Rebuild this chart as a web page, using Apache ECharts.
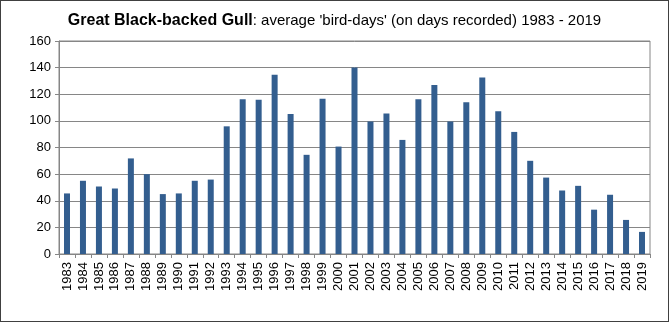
<!DOCTYPE html>
<html><head><meta charset="utf-8">
<script src="https://cdn.jsdelivr.net/npm/echarts@6/dist/echarts.min.js"></script>
<style>
html,body{margin:0;padding:0;background:#fff;}
#c{width:669px;height:322px;box-sizing:border-box;border:1px solid #404040;}
</style></head>
<body><div id="c"></div>
<script>
const years = ['1983','1984','1985','1986','1987','1988','1989','1990','1991','1992','1993','1994','1995','1996','1997','1998','1999','2000','2001','2002','2003','2004','2005','2006','2007','2008','2009','2010','2011','2012','2013','2014','2015','2016','2017','2018','2019'];
const birdDays = [45.5,55,50.7,49.2,71.8,60,45,45.5,55,55.9,95.9,116.3,115.8,134.6,105.1,74.5,116.7,80.7,140.1,99.6,105.6,85.7,116.3,126.9,99.6,114,132.6,107.3,91.7,70,57.4,47.7,51.2,33.3,44.5,25.6,16.6];
const yTicks = [0,20,40,60,80,100,120,140,160];

const chart = echarts.init(document.getElementById('c'), null, {renderer:'canvas'});
chart.setOption({
  animation:false,
  title:{
    text:'{b|Great Black-backed Gull}{n|: average \'bird-days\' (on days recorded) 1983 - 2019}',
    left:'center', top:7,
    textStyle:{
      fontWeight:'normal',
      rich:{
        b:{fontFamily:'Liberation Sans, Arial, sans-serif',fontSize:16,fontWeight:'bold',color:'#000'},
        n:{fontFamily:'Liberation Sans, Arial, sans-serif',fontSize:15,fontWeight:'normal',color:'#000'}
      }
    }
  },
  grid:{left:58,right:18,top:40,bottom:67,show:true,borderColor:'#868686',borderWidth:1},
  xAxis:{
    type:'category', data:years,
    axisLine:{lineStyle:{color:'#868686'}},
    axisTick:{show:true,length:4,lineStyle:{color:'#868686'}},
    axisLabel:{rotate:90,interval:0,margin:8,color:'#000',fontFamily:'Liberation Sans, Arial, sans-serif',fontSize:13}
  },
  yAxis:{
    type:'value', min:yTicks[0], max:yTicks[yTicks.length-1], interval:20,
    axisLine:{show:true,lineStyle:{color:'#868686'}},
    axisTick:{show:true,length:4,lineStyle:{color:'#868686'}},
    splitLine:{lineStyle:{color:'#868686',width:1}},
    axisLabel:{margin:8,color:'#000',fontFamily:'Liberation Sans, Arial, sans-serif',fontSize:13}
  },
  series:[{
    type:'bar', data:birdDays, barWidth:6,
    itemStyle:{color:'#335e8f'}
  }]
});
</script></body></html>
